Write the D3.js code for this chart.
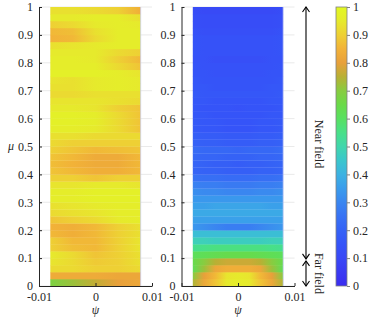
<!DOCTYPE html>
<html>
<head>
<meta charset="utf-8">
<script src="https://cdn.jsdelivr.net/npm/d3@7"></script>
<style>
  body { margin: 0; background: #fff; }
  svg text { font-family: "Liberation Serif", "Times New Roman", serif !important; fill: #262626; }
</style>
</head>
<body>
<div id="chart"></div>
<script>
// column positions (psi) of the values in each row
var psiLeft = [-0.008, -0.004, 0, 0.004, 0.008];
var psiRight = [-0.008, -0.006, -0.004, -0.002, 0, 0.002, 0.004, 0.006, 0.008];

// rows go from mu = 0 (first) to mu = 1 (last), 40 rows of 0.025
var leftValues = [
  [0.68, 0.72, 0.76, 0.80, 0.82],
  [0.83, 0.83, 0.83, 0.82, 0.82],
  [0.92, 0.92, 0.90, 0.90, 0.92],
  [0.94, 0.92, 0.89, 0.90, 0.93],
  [0.95, 0.92, 0.88, 0.90, 0.93],
  [0.90, 0.87, 0.86, 0.90, 0.94],
  [0.90, 0.86, 0.86, 0.90, 0.94],
  [0.86, 0.84, 0.86, 0.90, 0.93],
  [0.85, 0.84, 0.86, 0.90, 0.93],
  [0.88, 0.90, 0.92, 0.95, 0.96],
  [0.92, 0.93, 0.94, 0.96, 0.96],
  [0.93, 0.94, 0.95, 0.96, 0.96],
  [0.96, 0.96, 0.97, 0.97, 0.97],
  [0.96, 0.96, 0.97, 0.97, 0.97],
  [0.94, 0.94, 0.95, 0.95, 0.94],
  [0.90, 0.90, 0.88, 0.90, 0.90],
  [0.88, 0.86, 0.84, 0.84, 0.86],
  [0.87, 0.85, 0.83, 0.83, 0.86],
  [0.88, 0.86, 0.83, 0.83, 0.86],
  [0.90, 0.88, 0.86, 0.87, 0.88],
  [0.92, 0.90, 0.90, 0.90, 0.90],
  [0.93, 0.93, 0.92, 0.92, 0.92],
  [0.96, 0.96, 0.95, 0.92, 0.88],
  [0.97, 0.97, 0.96, 0.92, 0.88],
  [0.97, 0.97, 0.96, 0.92, 0.88],
  [0.95, 0.95, 0.94, 0.90, 0.88],
  [0.94, 0.94, 0.94, 0.93, 0.92],
  [0.92, 0.92, 0.93, 0.93, 0.93],
  [0.93, 0.93, 0.95, 0.96, 0.95],
  [0.94, 0.93, 0.95, 0.96, 0.95],
  [0.97, 0.97, 0.97, 0.96, 0.94],
  [0.96, 0.96, 0.96, 0.92, 0.88],
  [0.96, 0.96, 0.95, 0.90, 0.86],
  [0.95, 0.95, 0.95, 0.92, 0.90],
  [0.93, 0.94, 0.95, 0.96, 0.96],
  [0.85, 0.86, 0.92, 0.96, 0.96],
  [0.86, 0.87, 0.93, 0.96, 0.96],
  [0.90, 0.92, 0.95, 0.96, 0.95],
  [0.95, 0.95, 0.96, 0.96, 0.93],
  [0.93, 0.93, 0.92, 0.90, 0.84]
];

var rightValues = [
  [0.74, 0.82, 0.88, 0.95, 0.96, 0.95, 0.88, 0.82, 0.74],
  [0.70, 0.80, 0.86, 0.94, 0.95, 0.94, 0.86, 0.80, 0.70],
  [0.62, 0.72, 0.82, 0.84, 0.84, 0.84, 0.82, 0.72, 0.62],
  [0.64, 0.70, 0.75, 0.77, 0.77, 0.77, 0.75, 0.70, 0.64],
  [0.61, 0.62, 0.63, 0.64, 0.64, 0.64, 0.63, 0.62, 0.61],
  [0.54, 0.55, 0.56, 0.56, 0.56, 0.56, 0.56, 0.55, 0.54],
  [0.48, 0.48, 0.47, 0.47, 0.47, 0.47, 0.47, 0.48, 0.48],
  [0.43, 0.43, 0.43, 0.43, 0.43, 0.43, 0.43, 0.43, 0.43],
  [0.34, 0.32, 0.30, 0.28, 0.28, 0.28, 0.30, 0.32, 0.34],
  [0.36, 0.36, 0.36, 0.36, 0.36, 0.36, 0.36, 0.36, 0.36],
  [0.38, 0.38, 0.38, 0.38, 0.38, 0.38, 0.38, 0.38, 0.38],
  [0.36, 0.36, 0.37, 0.37, 0.37, 0.37, 0.37, 0.36, 0.36],
  [0.34, 0.34, 0.34, 0.34, 0.34, 0.34, 0.34, 0.34, 0.34],
  [0.32, 0.31, 0.31, 0.30, 0.30, 0.30, 0.31, 0.31, 0.32],
  [0.29, 0.28, 0.28, 0.27, 0.27, 0.27, 0.28, 0.28, 0.29],
  [0.25, 0.24, 0.24, 0.23, 0.23, 0.23, 0.24, 0.24, 0.25],
  [0.21, 0.20, 0.20, 0.19, 0.19, 0.19, 0.20, 0.20, 0.21],
  [0.21, 0.20, 0.19, 0.19, 0.18, 0.19, 0.19, 0.20, 0.21],
  [0.22, 0.21, 0.21, 0.20, 0.20, 0.20, 0.21, 0.21, 0.22],
  [0.23, 0.22, 0.22, 0.22, 0.21, 0.22, 0.22, 0.22, 0.23],
  [0.20, 0.19, 0.19, 0.18, 0.18, 0.18, 0.19, 0.19, 0.20],
  [0.19, 0.18, 0.18, 0.17, 0.17, 0.17, 0.18, 0.18, 0.19],
  [0.17, 0.16, 0.16, 0.15, 0.15, 0.15, 0.16, 0.16, 0.17],
  [0.17, 0.16, 0.16, 0.15, 0.15, 0.15, 0.16, 0.16, 0.17],
  [0.16, 0.16, 0.15, 0.15, 0.15, 0.15, 0.15, 0.16, 0.16],
  [0.16, 0.15, 0.15, 0.15, 0.14, 0.15, 0.15, 0.15, 0.16],
  [0.16, 0.16, 0.15, 0.15, 0.15, 0.15, 0.15, 0.16, 0.16],
  [0.17, 0.16, 0.16, 0.16, 0.16, 0.16, 0.16, 0.16, 0.17],
  [0.16, 0.16, 0.15, 0.15, 0.15, 0.15, 0.15, 0.16, 0.16],
  [0.16, 0.15, 0.15, 0.15, 0.15, 0.15, 0.15, 0.15, 0.16],
  [0.15, 0.15, 0.14, 0.14, 0.14, 0.14, 0.14, 0.15, 0.15],
  [0.15, 0.14, 0.14, 0.14, 0.14, 0.14, 0.14, 0.14, 0.15],
  [0.14, 0.14, 0.13, 0.13, 0.13, 0.13, 0.13, 0.14, 0.14],
  [0.15, 0.14, 0.14, 0.14, 0.14, 0.14, 0.14, 0.14, 0.15],
  [0.15, 0.14, 0.14, 0.14, 0.14, 0.14, 0.14, 0.14, 0.15],
  [0.15, 0.14, 0.14, 0.14, 0.14, 0.14, 0.14, 0.14, 0.15],
  [0.14, 0.13, 0.13, 0.13, 0.13, 0.13, 0.13, 0.13, 0.14],
  [0.13, 0.12, 0.12, 0.12, 0.12, 0.12, 0.12, 0.12, 0.13],
  [0.13, 0.12, 0.12, 0.12, 0.12, 0.12, 0.12, 0.12, 0.13],
  [0.12, 0.11, 0.11, 0.11, 0.11, 0.11, 0.11, 0.11, 0.12]
];

var rowStep = 0.025;
var xTicks = [-0.01, 0, 0.01];
var xTickLabels = ["-0.01", "0", "0.01"];
var yTicks = [0, 0.1, 0.2, 0.3, 0.4, 0.5, 0.6, 0.7, 0.8, 0.9, 1];
var yTickLabels = ["0", "0.1", "0.2", "0.3", "0.4", "0.5", "0.6", "0.7", "0.8", "0.9", "1"];

// zones marked by the arrows (mu ranges)
var zoneNames = ["Near field", "Far field"];
var zoneFrom = [0.097, 0];
var zoneTo = [1, 0.09];

// parula-like colormap, sampled every 0.05
var cmapColors = ["#3a2cf0", "#3a3af2", "#3948f6", "#3554f8", "#3562f6", "#3872f4", "#3a86f0",
  "#3a9cec", "#3cb2e2", "#3ac6cc", "#40d6ac", "#48e088", "#58e060", "#6ada48", "#88cc40",
  "#b8b034", "#e8a03a", "#f2b238", "#eed034", "#e6ea2c", "#e2f822"];

(function() {
  var width = 373,
      height = 320;

  var cmapDomain = cmapColors.map(function(c, i) { return i / (cmapColors.length - 1); });
  var color = d3.scaleLinear().domain(cmapDomain).range(cmapColors).clamp(true);

  var svg = d3.select("#chart")
    .append("svg")
    .attr("width", width)
    .attr("height", height);

  var defs = svg.append("defs");

  var y = d3.scaleLinear().domain([0, 1]).range([286, 7]);

  var drawPanel = function(id, values, psi, x0, x1) {
    var x = d3.scaleLinear().domain([-0.01, 0.01]).range([x0, x1]);
    var g = svg.append("g").attr("class", "panel");

    // light grid
    g.selectAll(".grid")
      .data(yTicks)
      .enter()
      .append("line")
      .attr("x1", x(-0.01))
      .attr("x2", x(0.01))
      .attr("y1", function(d) { return y(d); })
      .attr("y2", function(d) { return y(d); })
      .attr("stroke", "#e4e4e4")
      .attr("stroke-width", 0.8);

    // one gradient per row, stops at the psi columns
    values.forEach(function(row, i) {
      var grad = defs.append("linearGradient")
        .attr("id", id + "-row" + i)
        .attr("gradientUnits", "userSpaceOnUse")
        .attr("x1", x(psi[0])).attr("x2", x(psi[psi.length - 1]))
        .attr("y1", 0).attr("y2", 0);
      row.forEach(function(v, j) {
        grad.append("stop")
          .attr("offset", j / (psi.length - 1))
          .attr("stop-color", color(v));
      });
    });

    g.selectAll(".row")
      .data(values)
      .enter()
      .append("rect")
      .attr("class", "row")
      .attr("x", x(psi[0]))
      .attr("width", x(psi[psi.length - 1]) - x(psi[0]))
      .attr("y", function(d, i) { return y((i + 1) * rowStep); })
      .attr("height", function(d, i) { return y(i * rowStep) - y((i + 1) * rowStep) + 0.3; })
      .attr("fill", function(d, i) { return "url(#" + id + "-row" + i + ")"; });

    // thin light edge on the right side of the image
    g.append("line")
      .attr("x1", x(psi[psi.length - 1])).attr("x2", x(psi[psi.length - 1]))
      .attr("y1", y(1)).attr("y2", y(0))
      .attr("stroke", "#c8ccf4").attr("stroke-width", 0.8);

    // axes, ticks pointing inwards
    var xAxis = d3.axisBottom(x).tickValues(xTicks)
      .tickFormat(function(d, i) { return xTickLabels[i]; })
      .tickSizeInner(-3).tickSizeOuter(0).tickPadding(6);
    var yAxis = d3.axisLeft(y).tickValues(yTicks)
      .tickFormat(function(d, i) { return yTickLabels[i]; })
      .tickSizeInner(-3).tickSizeOuter(0).tickPadding(6);

    var gx = g.append("g").attr("transform", "translate(0," + y(0) + ")").call(xAxis);
    var gy = g.append("g").attr("transform", "translate(" + x(-0.01) + ",0)").call(yAxis);
    [gx, gy].forEach(function(a) {
      a.attr("font-family", null).attr("font-size", 12);
      a.select(".domain").attr("stroke", "#262626").attr("stroke-width", 1);
      a.selectAll(".tick line").attr("stroke", "#262626");
      a.selectAll("text").attr("fill", "#262626");
    });

    g.append("text")
      .attr("x", x(0))
      .attr("y", 314)
      .attr("text-anchor", "middle")
      .attr("font-size", 12)
      .attr("font-style", "italic")
      .text("ψ");

    return x;
  };

  drawPanel("left", leftValues, psiLeft, 39, 152);
  drawPanel("right", rightValues, psiRight, 181.5, 294.5);

  svg.append("text")
    .attr("x", 11)
    .attr("y", y(0.5) + 3)
    .attr("text-anchor", "middle")
    .attr("font-size", 12)
    .attr("font-style", "italic")
    .text("μ");

  // arrows for the two zones
  var arrowX = 306;
  var head = function(yTip, dir) {
    return "M" + (arrowX - 3.5) + "," + (yTip + dir * 5) + "L" + arrowX + "," + yTip + "L" + (arrowX + 3.5) + "," + (yTip + dir * 5);
  };
  zoneNames.forEach(function(name, i) {
    var yTop = y(zoneTo[i]), yBot = y(zoneFrom[i]);
    svg.append("line")
      .attr("x1", arrowX).attr("x2", arrowX)
      .attr("y1", yTop).attr("y2", yBot)
      .attr("stroke", "#000").attr("stroke-width", 1.1);
    svg.append("path").attr("d", head(yTop, 1)).attr("fill", "none").attr("stroke", "#000").attr("stroke-width", 1.1);
    svg.append("path").attr("d", head(yBot, -1)).attr("fill", "none").attr("stroke", "#000").attr("stroke-width", 1.1);
    var ty = i === 0 ? 144 : (yTop + yBot) / 2;
    svg.append("text")
      .attr("transform", "translate(315," + ty + ") rotate(90)")
      .attr("text-anchor", "middle")
      .attr("font-size", 12)
      .text(name);
  });

  // colorbar
  var cb = defs.append("linearGradient")
    .attr("id", "cbar")
    .attr("x1", 0).attr("x2", 0).attr("y1", 1).attr("y2", 0);
  cmapColors.forEach(function(c, i) {
    cb.append("stop").attr("offset", cmapDomain[i]).attr("stop-color", c);
  });
  svg.append("rect")
    .attr("x", 336).attr("y", y(1))
    .attr("width", 11).attr("height", y(0) - y(1))
    .attr("fill", "url(#cbar)")
    .attr("stroke", "#808080").attr("stroke-width", 0.8);

  var cAxis = d3.axisRight(y).tickValues(yTicks)
    .tickFormat(function(d, i) { return yTickLabels[i]; })
    .tickSizeInner(3).tickSizeOuter(0).tickPadding(3);
  var gc = svg.append("g").attr("transform", "translate(347,0)").call(cAxis);
  gc.attr("font-family", null).attr("font-size", 12);
  gc.select(".domain").remove();
  gc.selectAll(".tick line").attr("stroke", "#808080");
  gc.selectAll("text").attr("fill", "#262626");
})();
</script>
</body>
</html>
